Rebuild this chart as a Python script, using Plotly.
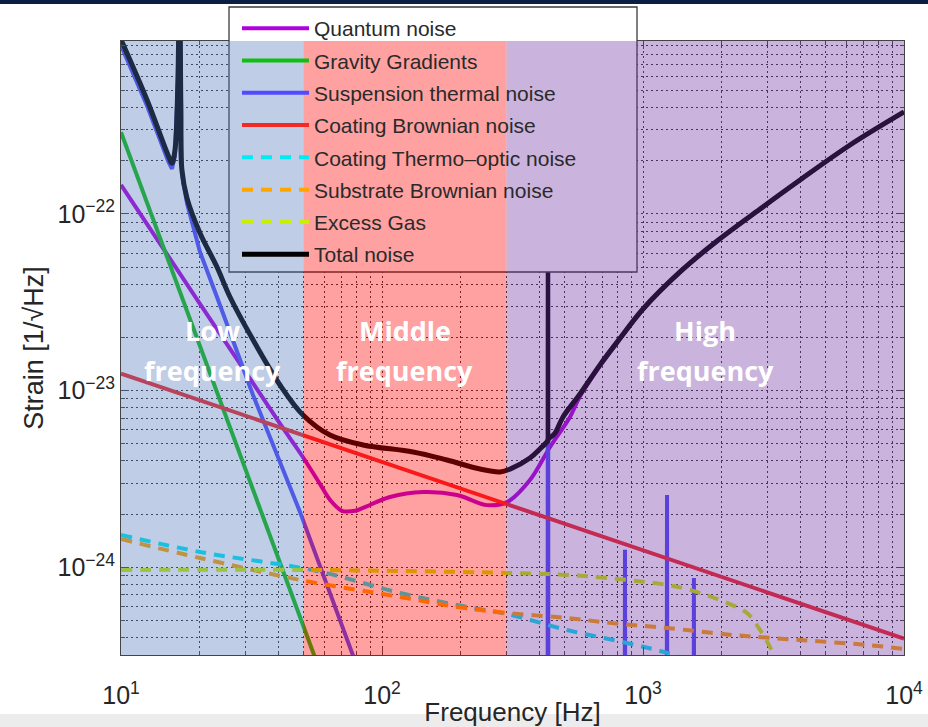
import math
import plotly.graph_objects as go

# ---------------------------------------------------------------------------
# Noise budget data: frequency [Hz] and strain amplitude [1/sqrt(Hz)]
# ---------------------------------------------------------------------------
quantum_f = [10, 20.07, 31.2, 40.66, 49.8, 57.9, 63.2, 70.25, 78.8, 84.6, 107.3,
             143.6, 193.8, 252.6, 301.3, 368.9, 440.3, 525.2, 573.8, 684.2,
             816.4, 1000, 1386, 1921, 2808, 3995, 6211, 10000]
quantum_h = [1.46e-22, 3.1e-23, 1.17e-23, 6.5e-24, 4.2e-24, 2.96e-24, 2.41e-24,
             2.09e-24, 2.09e-24, 2.17e-24, 2.50e-24, 2.67e-24, 2.57e-24,
             2.25e-24, 2.34e-24, 3.12e-24, 4.80e-24, 7.1e-24, 9.3e-24,
             1.38e-23, 1.96e-23, 2.88e-23, 4.68e-23, 7.0e-23, 1.063e-22,
             1.553e-22, 2.453e-22, 3.775e-22]

gravity_f = [10, 20, 40, 60]
gravity_h = [2.9e-22, 1.81e-23, 1.13e-24, 2.24e-25]

suspension_f = [10, 12.58, 15.14, 15.68, 16.1, 16.54, 16.75, 16.95, 17.1, 17.9,
                20.07, 23.32, 32.04, 48.5, 57.9, 77.4, 94.0,
                431, 432.5, 434, 850, 853, 856, 1232, 1236, 1240,
                1562, 1567, 1572, 10000]
suspension_h = [9.0e-22, 4.1e-22, 2.0e-22, 1.8e-22, 2.15e-22, 5.8e-22, 3e-21,
                3.9e-22, 1.7e-22, 1.15e-22, 6.1e-23, 3.39e-23, 9.46e-24,
                2.06e-24, 1.02e-24, 3.19e-25, 1.46e-25,
                4e-26, 1e-20, 4e-26, 3e-26, 1.26e-24, 3e-26, 2.5e-26, 2.57e-24,
                2.5e-26, 2.3e-26, 8.7e-25, 2.3e-26, 1e-26]

coating_brownian_f = [10, 100, 1000, 10000]
coating_brownian_h = [1.25e-23, 3.95e-24, 1.25e-24, 3.95e-25]

thermo_optic_f = [10, 20.07, 56.4, 117.2, 211.7, 301.3, 511.4, 868.5, 1236, 1652]
thermo_optic_h = [1.525e-24, 1.222e-24, 9.54e-25, 7.16e-25, 5.97e-25, 5.45e-25,
                  4.42e-25, 3.73e-25, 3.28e-25, 2.8e-25]

substrate_f = [10, 20.07, 48.5, 117.2, 193.8, 301.3, 511.4, 816.4, 1236, 2212,
               3995, 7214, 10000]
substrate_h = [1.447e-24, 1.13e-24, 8.49e-25, 6.8e-25, 5.97e-25, 5.52e-25,
               5.17e-25, 4.78e-25, 4.54e-25, 4.14e-25, 3.88e-25, 3.64e-25,
               3.45e-25]

gas_f = [10, 50, 117.2, 301.3, 511.4, 868.5, 1236, 1514, 2098, 2503, 2808,
         3066, 3291, 3500]
gas_h = [9.67e-25, 9.67e-25, 9.54e-25, 9.30e-25, 9.06e-25, 8.49e-25, 7.95e-25,
         7.45e-25, 6.29e-25, 5.52e-25, 4.42e-25, 3.54e-25, 2.8e-25, 2.0e-25]

total_f = [10, 12.58, 15.14, 15.68, 16.1, 16.54, 16.75, 16.95, 17.1, 17.9,
           20.07, 23.32, 26.16, 32.04, 40.66, 49.8, 63.2, 84.6, 131.5, 177.4,
           237.4, 283.1, 309.4, 368.9, 405, 431.6, 432.5, 433.4, 460, 493.8,
           573.8, 684.2, 816.4, 1000, 1386, 1921, 2808, 3995, 6211, 10000]
total_h = [9.7e-22, 4.42e-22, 2.16e-22, 1.94e-22, 2.3e-22, 6.2e-22, 3e-21,
           4.2e-22, 1.8e-22, 1.23e-22, 7.81e-23, 5.01e-23, 3.39e-23, 1.94e-23,
           1.077e-23, 7.29e-24, 5.61e-24, 4.93e-24, 4.50e-24, 4.05e-24,
           3.60e-24, 3.47e-24, 3.60e-24, 4.16e-24, 4.72e-24, 5.2e-24, 1e-20,
           5.3e-24, 5.75e-24, 7.10e-24, 9.58e-24, 1.40e-23, 1.98e-23,
           2.9e-23, 4.70e-23, 7.03e-23, 1.067e-22, 1.557e-22, 2.457e-22,
           3.78e-22]
# Narrow violin-mode line in the total (drawn straight, not smoothed)
total_line_freq = 432.5

# Frequency bands [Hz] and their labels
band_edges = [10, 50, 300, 10000]
band_labels = [("Low", "frequency"), ("Middle", "frequency"), ("High", "frequency")]
band_fill = ["rgba(77,116,186,0.36)", "rgba(255,0,0,0.37)", "rgba(112,48,160,0.37)"]

# Axis ticks
x_tickvals = [10, 100, 1000, 10000]
x_ticktext = ["10<sup>1</sup>", "10<sup>2</sup>", "10<sup>3</sup>", "10<sup>4</sup>"]
y_tickvals = [1e-24, 1e-23, 1e-22]
y_ticktext = ["10<sup>\u221224</sup>", "10<sup>\u221223</sup>", "10<sup>\u221222</sup>"]

x_range = [1.0, 4.0]
y_range = [-24.496, -21.021]

x_minor = [k * 10 ** n for n in (1, 2, 3) for k in range(2, 10)]
y_minor = [k * 10.0 ** n for n in (-25, -24, -23, -22) for k in range(2, 10)
           if y_range[0] < math.log10(k * 10.0 ** n) < y_range[1]]

# ---------------------------------------------------------------------------
series = [
    ("Quantum noise", quantum_f, quantum_h, "#B000E0", None, "spline", 4),
    ("Gravity Gradients", gravity_f, gravity_h, "#10C010", None, "linear", 4),
    ("Suspension thermal noise", suspension_f, suspension_h, "#504BFF", None, "linear", 4),
    ("Coating Brownian noise", coating_brownian_f, coating_brownian_h, "#F52828", None, "linear", 4),
    ("Coating Thermo\u2013optic noise", thermo_optic_f, thermo_optic_h, "#00EBF5", "11px,8px", "spline", 4),
    ("Substrate Brownian noise", substrate_f, substrate_h, "#FFA500", "11px,8px", "spline", 4),
    ("Excess Gas", gas_f, gas_h, "#C8F000", "11px,8px", "spline", 4),
]

fig = go.Figure()
for name, f, h, color, dash, shape, width in series:
    fig.add_trace(go.Scatter(
        x=f, y=h, name=name, mode="lines", legendgroup=name,
        line=dict(color=color, width=width, dash=dash, shape=shape),
        hoverinfo="skip",
    ))

# Total noise: smooth curve plus the narrow line at the violin mode
k = total_f.index(total_line_freq)
fig.add_trace(go.Scatter(
    x=total_f[:k] + total_f[k + 1:], y=total_h[:k] + total_h[k + 1:],
    name="Total noise", mode="lines", legendgroup="Total noise",
    line=dict(color="#000000", width=5, shape="spline"), hoverinfo="skip",
))
fig.add_trace(go.Scatter(
    x=total_f[k - 1:k + 2], y=total_h[k - 1:k + 2],
    name="Total noise", mode="lines", legendgroup="Total noise", showlegend=False,
    line=dict(color="#000000", width=4, shape="linear"), hoverinfo="skip",
))

# Plot box spans 121..904 px horizontally and 41..655 px vertically
def px_to_paper_x(px):
    return (px - 121) / 783.0

def px_to_paper_y(py):
    return (655 - py) / 614.0

# Legend panel (opaque, over the curves but under the band shading)
shapes = [
    dict(type="rect", xref="paper", yref="paper", layer="above",
         x0=px_to_paper_x(229), x1=px_to_paper_x(637),
         y0=px_to_paper_y(272), y1=px_to_paper_y(7),
         fillcolor="white", line=dict(color="#3a3a3a", width=1.3)),
]
for i in range(3):
    shapes.append(dict(type="rect", xref="x", yref="paper", layer="above",
                       x0=band_edges[i], x1=band_edges[i + 1], y0=0, y1=1,
                       fillcolor=band_fill[i], line=dict(width=0)))
# Slide frame strips
shapes.append(dict(type="rect", xref="paper", yref="paper", layer="below",
                   x0=px_to_paper_x(-5), x1=px_to_paper_x(935),
                   y0=px_to_paper_y(4), y1=px_to_paper_y(-2),
                   fillcolor="#0b1f44", line=dict(width=0)))
shapes.append(dict(type="rect", xref="paper", yref="paper", layer="below",
                   x0=px_to_paper_x(-5), x1=px_to_paper_x(935),
                   y0=px_to_paper_y(730), y1=px_to_paper_y(714),
                   fillcolor="#ececec", line=dict(width=0)))

annotations = []
for i, (top, bottom) in enumerate(band_labels):
    xc = 0.5 * (math.log10(band_edges[i]) + math.log10(band_edges[i + 1]))
    for txt, py in ((top, 330), (bottom, 370)):
        annotations.append(dict(
            x=xc, xref="x", y=px_to_paper_y(py), yref="paper",
            text=txt, showarrow=False, xanchor="center", yanchor="middle",
            font=dict(family="Open Sans", size=27, color="white", weight="bold"),
        ))

sans = "Liberation Sans, Arial, sans-serif"
tick_font = dict(family=sans, size=25, color="#262626")
grid_common = dict(gridcolor="rgba(0,0,0,0.8)", gridwidth=1, griddash="2px,3px")

fig.update_layout(
    width=928, height=727,
    margin=dict(l=121, r=24, t=41, b=72, autoexpand=False),
    paper_bgcolor="white", plot_bgcolor="white",
    shapes=shapes, annotations=annotations,
    showlegend=True,
    legend=dict(
        x=px_to_paper_x(237), y=px_to_paper_y(8), xanchor="left", yanchor="top",
        bgcolor="rgba(0,0,0,0)", borderwidth=0, itemwidth=67, tracegroupgap=2,
        font=dict(family=sans, size=21, color="#2a2a2a"),
    ),
    xaxis=dict(
        type="log", range=x_range, tickmode="array", tickvals=x_tickvals,
        ticktext=x_ticktext, tickfont=tick_font, ticks="inside", ticklen=8,
        tickcolor="#444", showline=True, linecolor="#444", linewidth=1,
        mirror="allticks", showgrid=True, automargin=False,
        ticklabelstandoff=18, **grid_common,
        minor=dict(tickmode="array", tickvals=x_minor, ticks="inside",
                   ticklen=4, tickcolor="#444", showgrid=True, **grid_common),
        title=dict(text="Frequency [Hz]", font=dict(family=sans, size=26, color="#262626"),
                   standoff=0),
    ),
    yaxis=dict(
        type="log", range=y_range, tickmode="array", tickvals=y_tickvals,
        ticktext=y_ticktext, tickfont=tick_font, ticks="inside", ticklen=8,
        tickcolor="#444", showline=True, linecolor="#444", linewidth=1,
        mirror="allticks", showgrid=True, automargin=False, **grid_common,
        minor=dict(tickmode="array", tickvals=y_minor, ticks="inside",
                   ticklen=4, tickcolor="#444", showgrid=True, **grid_common),
        title=dict(text="Strain [1/\u221aHz]", font=dict(family=sans, size=27, color="#262626"),
                   standoff=6),
    ),
)

fig.write_html("out.html")
